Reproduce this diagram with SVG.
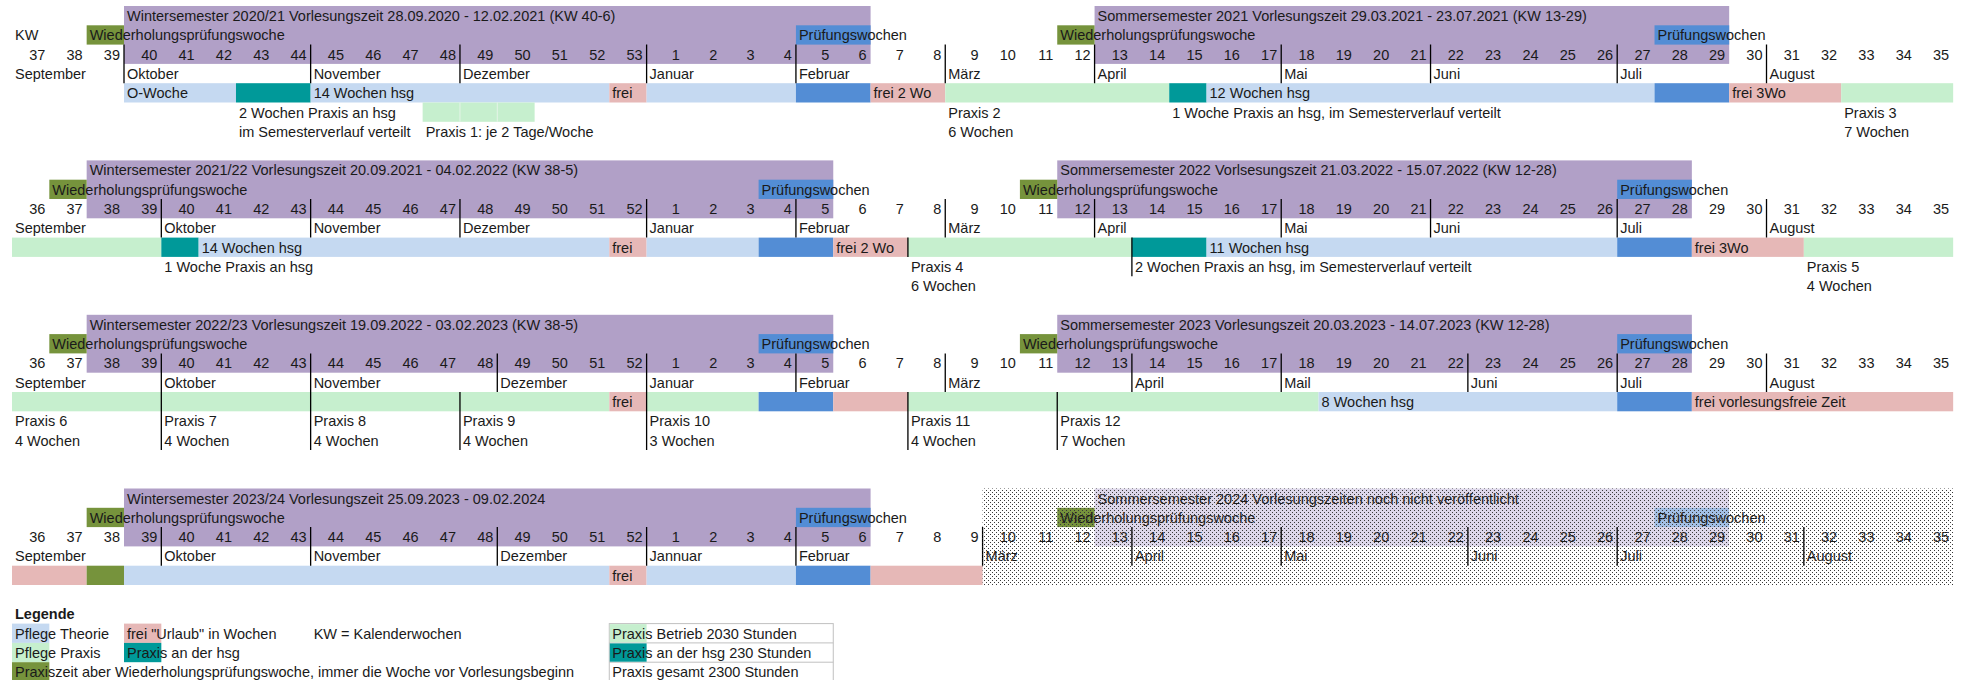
<svg xmlns="http://www.w3.org/2000/svg" width="1966" height="680" viewBox="0 0 1966 680">
<style>
text{font-family:"Liberation Sans",Arial,sans-serif;font-size:14.5px;fill:#1a1a1a}
.wk{text-anchor:end}
.b{font-weight:bold}
.lb{fill:#C5D9F1}.g{fill:#C6EFCE}.t{fill:#009999}.p{fill:#E6B8B7}.bl{fill:#538DD5}.pu{fill:#B1A0C7}.dg{fill:#76933C}
.pul{fill:#DDD7EA}.bll{fill:#A3C0E6}
.ml{stroke:#000;stroke-width:1.3;fill:none}
</style>
<defs>
<pattern id="dots" width="4" height="4" patternUnits="userSpaceOnUse">
<rect x="0" y="0" width="1" height="1" fill="#3a3a3a"/>
<rect x="2" y="2" width="1" height="1" fill="#3a3a3a"/>
</pattern>
</defs>
<rect width="1966" height="680" fill="#fff"/>

<!-- ===== Block 1: 2020/21 ===== -->
<g id="block-2020-21">
<g id="ws2020-band">
<rect class="pu" x="124" y="6" width="746.59" height="57.9"/>
<rect class="dg" x="86.66" y="25.3" width="37.33" height="19.3"/>
<rect class="bl" x="795.93" y="25.3" width="74.66" height="19.3"/>
<text x="127" y="21">Wintersemester 2020/21 Vorlesungszeit 28.09.2020 - 12.02.2021 (KW 40-6)</text>
<text x="89.66" y="40.3">Wiederholungsprüfungswoche</text>
<text x="798.93" y="40.3">Prüfungswochen</text>
</g>
<g id="ss2021-band">
<rect class="pu" x="1094.57" y="6" width="634.61" height="57.9"/>
<rect class="dg" x="1057.24" y="25.3" width="37.33" height="19.3"/>
<rect class="bl" x="1654.52" y="25.3" width="74.66" height="19.3"/>
<text x="1097.57" y="21">Sommersemester 2021 Vorlesungszeit 29.03.2021 - 23.07.2021 (KW 13-29)</text>
<text x="1060.24" y="40.3">Wiederholungsprüfungswoche</text>
<text x="1657.52" y="40.3">Prüfungswochen</text>
</g>
<text x="15" y="40.3">KW</text>
<text class="wk" y="59.6"><tspan x="45.33">37</tspan><tspan x="82.66">38</tspan><tspan x="119.99">39</tspan><tspan x="157.32">40</tspan><tspan x="194.65">41</tspan><tspan x="231.98">42</tspan><tspan x="269.31">43</tspan><tspan x="306.64">44</tspan><tspan x="343.97">45</tspan><tspan x="381.3">46</tspan><tspan x="418.63">47</tspan><tspan x="455.96">48</tspan><tspan x="493.29">49</tspan><tspan x="530.62">50</tspan><tspan x="567.95">51</tspan><tspan x="605.28">52</tspan><tspan x="642.61">53</tspan><tspan x="679.94">1</tspan><tspan x="717.27">2</tspan><tspan x="754.6">3</tspan><tspan x="791.93">4</tspan><tspan x="829.26">5</tspan><tspan x="866.59">6</tspan><tspan x="903.92">7</tspan><tspan x="941.25">8</tspan><tspan x="978.58">9</tspan><tspan x="1015.91">10</tspan><tspan x="1053.24">11</tspan><tspan x="1090.57">12</tspan><tspan x="1127.9">13</tspan><tspan x="1165.23">14</tspan><tspan x="1202.56">15</tspan><tspan x="1239.89">16</tspan><tspan x="1277.22">17</tspan><tspan x="1314.55">18</tspan><tspan x="1351.88">19</tspan><tspan x="1389.21">20</tspan><tspan x="1426.54">21</tspan><tspan x="1463.87">22</tspan><tspan x="1501.2">23</tspan><tspan x="1538.53">24</tspan><tspan x="1575.86">25</tspan><tspan x="1613.19">26</tspan><tspan x="1650.52">27</tspan><tspan x="1687.85">28</tspan><tspan x="1725.18">29</tspan><tspan x="1762.51">30</tspan><tspan x="1799.84">31</tspan><tspan x="1837.17">32</tspan><tspan x="1874.5">33</tspan><tspan x="1911.83">34</tspan><tspan x="1949.16">35</tspan></text>
<text y="78.9"><tspan x="15">September</tspan><tspan x="127">Oktober</tspan><tspan x="313.64">November</tspan><tspan x="462.96">Dezember</tspan><tspan x="649.61">Januar</tspan><tspan x="798.93">Februar</tspan><tspan x="948.25">März</tspan><tspan x="1097.57">April</tspan><tspan x="1284.22">Mai</tspan><tspan x="1433.54">Juni</tspan><tspan x="1620.19">Juli</tspan><tspan x="1769.51">August</tspan></text>
<g id="bar-2020-21">
<rect class="lb" x="124" y="83.2" width="111.99" height="19.3"/>
<rect class="t" x="235.98" y="83.2" width="74.66" height="19.3"/>
<rect class="lb" x="310.64" y="83.2" width="298.64" height="19.3"/>
<rect class="p" x="609.28" y="83.2" width="37.33" height="19.3"/>
<rect class="lb" x="646.61" y="83.2" width="149.32" height="19.3"/>
<rect class="bl" x="795.93" y="83.2" width="74.66" height="19.3"/>
<rect class="p" x="870.59" y="83.2" width="74.66" height="19.3"/>
<rect class="g" x="945.25" y="83.2" width="223.98" height="19.3"/>
<rect class="t" x="1169.23" y="83.2" width="37.33" height="19.3"/>
<rect class="lb" x="1206.56" y="83.2" width="447.96" height="19.3"/>
<rect class="bl" x="1654.52" y="83.2" width="74.66" height="19.3"/>
<rect class="p" x="1729.18" y="83.2" width="111.99" height="19.3"/>
<rect class="g" x="1841.17" y="83.2" width="111.99" height="19.3"/>
<rect class="g" x="422.63" y="102.5" width="111.99" height="19.3"/>
<path d="M459.96 102.5V121.8M497.29 102.5V121.8" stroke="#e4f4e7" stroke-width="1"/>
<text y="98.2"><tspan x="127">O-Woche</tspan><tspan x="313.64">14 Wochen hsg</tspan><tspan x="612.28">frei</tspan><tspan x="873.59">frei 2 Wo</tspan><tspan x="1209.56">12 Wochen hsg</tspan><tspan x="1732.18">frei 3Wo</tspan></text>
</g>
<text y="117.5"><tspan x="238.98">2 Wochen Praxis an hsg</tspan><tspan x="948.25">Praxis 2</tspan><tspan x="1172.23">1 Woche Praxis an hsg, im Semesterverlauf verteilt</tspan><tspan x="1844.17">Praxis 3</tspan></text>
<text y="136.8"><tspan x="238.98">im Semesterverlauf verteilt</tspan><tspan x="425.63">Praxis 1: je 2 Tage/Woche</tspan><tspan x="948.25">6 Wochen</tspan><tspan x="1844.17">7 Wochen</tspan></text>
</g>

<!-- ===== Block 2: 2021/22 ===== -->
<g id="block-2021-22">
<g id="ws2021-band">
<rect class="pu" x="86.66" y="160.4" width="746.6" height="57.9"/>
<rect class="dg" x="49.33" y="179.7" width="37.33" height="19.3"/>
<rect class="bl" x="758.6" y="179.7" width="74.66" height="19.3"/>
<text x="89.66" y="175.4">Wintersemester 2021/22 Vorlesungszeit 20.09.2021 - 04.02.2022 (KW 38-5)</text>
<text x="52.33" y="194.7">Wiederholungsprüfungswoche</text>
<text x="761.6" y="194.7">Prüfungswochen</text>
</g>
<g id="ss2022-band">
<rect class="pu" x="1057.24" y="160.4" width="634.61" height="57.9"/>
<rect class="dg" x="1019.91" y="179.7" width="37.33" height="19.3"/>
<rect class="bl" x="1617.19" y="179.7" width="74.66" height="19.3"/>
<text x="1060.24" y="175.4">Sommersemester 2022 Vorlsesungszeit 21.03.2022 - 15.07.2022 (KW 12-28)</text>
<text x="1022.91" y="194.7">Wiederholungsprüfungswoche</text>
<text x="1620.19" y="194.7">Prüfungswochen</text>
</g>
<text class="wk" y="214"><tspan x="45.33">36</tspan><tspan x="82.66">37</tspan><tspan x="119.99">38</tspan><tspan x="157.32">39</tspan><tspan x="194.65">40</tspan><tspan x="231.98">41</tspan><tspan x="269.31">42</tspan><tspan x="306.64">43</tspan><tspan x="343.97">44</tspan><tspan x="381.3">45</tspan><tspan x="418.63">46</tspan><tspan x="455.96">47</tspan><tspan x="493.29">48</tspan><tspan x="530.62">49</tspan><tspan x="567.95">50</tspan><tspan x="605.28">51</tspan><tspan x="642.61">52</tspan><tspan x="679.94">1</tspan><tspan x="717.27">2</tspan><tspan x="754.6">3</tspan><tspan x="791.93">4</tspan><tspan x="829.26">5</tspan><tspan x="866.59">6</tspan><tspan x="903.92">7</tspan><tspan x="941.25">8</tspan><tspan x="978.58">9</tspan><tspan x="1015.91">10</tspan><tspan x="1053.24">11</tspan><tspan x="1090.57">12</tspan><tspan x="1127.9">13</tspan><tspan x="1165.23">14</tspan><tspan x="1202.56">15</tspan><tspan x="1239.89">16</tspan><tspan x="1277.22">17</tspan><tspan x="1314.55">18</tspan><tspan x="1351.88">19</tspan><tspan x="1389.21">20</tspan><tspan x="1426.54">21</tspan><tspan x="1463.87">22</tspan><tspan x="1501.2">23</tspan><tspan x="1538.53">24</tspan><tspan x="1575.86">25</tspan><tspan x="1613.19">26</tspan><tspan x="1650.52">27</tspan><tspan x="1687.85">28</tspan><tspan x="1725.18">29</tspan><tspan x="1762.51">30</tspan><tspan x="1799.84">31</tspan><tspan x="1837.17">32</tspan><tspan x="1874.5">33</tspan><tspan x="1911.83">34</tspan><tspan x="1949.16">35</tspan></text>
<text y="233.3"><tspan x="15">September</tspan><tspan x="164.32">Oktober</tspan><tspan x="313.64">November</tspan><tspan x="462.96">Dezember</tspan><tspan x="649.61">Januar</tspan><tspan x="798.93">Februar</tspan><tspan x="948.25">März</tspan><tspan x="1097.57">April</tspan><tspan x="1284.22">Mai</tspan><tspan x="1433.54">Juni</tspan><tspan x="1620.19">Juli</tspan><tspan x="1769.51">August</tspan></text>
<g id="bar-2021-22">
<rect class="g" x="12" y="237.6" width="149.32" height="19.3"/>
<rect class="t" x="161.32" y="237.6" width="37.33" height="19.3"/>
<rect class="lb" x="198.65" y="237.6" width="410.63" height="19.3"/>
<rect class="p" x="609.28" y="237.6" width="37.33" height="19.3"/>
<rect class="lb" x="646.61" y="237.6" width="111.99" height="19.3"/>
<rect class="bl" x="758.6" y="237.6" width="74.66" height="19.3"/>
<rect class="p" x="833.26" y="237.6" width="74.66" height="19.3"/>
<rect class="g" x="907.92" y="237.6" width="223.98" height="19.3"/>
<rect class="t" x="1131.9" y="237.6" width="74.66" height="19.3"/>
<rect class="lb" x="1206.56" y="237.6" width="410.63" height="19.3"/>
<rect class="bl" x="1617.19" y="237.6" width="74.66" height="19.3"/>
<rect class="p" x="1691.85" y="237.6" width="111.99" height="19.3"/>
<rect class="g" x="1803.84" y="237.6" width="149.32" height="19.3"/>
<text y="252.6"><tspan x="201.65">14 Wochen hsg</tspan><tspan x="612.28">frei</tspan><tspan x="836.26">frei 2 Wo</tspan><tspan x="1209.56">11 Wochen hsg</tspan><tspan x="1694.85">frei 3Wo</tspan></text>
</g>
<text y="271.9"><tspan x="164.32">1 Woche Praxis an hsg</tspan><tspan x="910.92">Praxis 4</tspan><tspan x="1134.9">2 Wochen Praxis an hsg, im Semesterverlauf verteilt</tspan><tspan x="1806.84">Praxis 5</tspan></text>
<text y="291.2"><tspan x="910.92">6 Wochen</tspan><tspan x="1806.84">4 Wochen</tspan></text>
</g>

<!-- ===== Block 3: 2022/23 ===== -->
<g id="block-2022-23">
<g id="ws2022-band">
<rect class="pu" x="86.66" y="314.8" width="746.6" height="57.9"/>
<rect class="dg" x="49.33" y="334.1" width="37.33" height="19.3"/>
<rect class="bl" x="758.6" y="334.1" width="74.66" height="19.3"/>
<text x="89.66" y="329.8">Wintersemester 2022/23 Vorlesungszeit 19.09.2022 - 03.02.2023 (KW 38-5)</text>
<text x="52.33" y="349.1">Wiederholungsprüfungswoche</text>
<text x="761.6" y="349.1">Prüfungswochen</text>
</g>
<g id="ss2023-band">
<rect class="pu" x="1057.24" y="314.8" width="634.61" height="57.9"/>
<rect class="dg" x="1019.91" y="334.1" width="37.33" height="19.3"/>
<rect class="bl" x="1617.19" y="334.1" width="74.66" height="19.3"/>
<text x="1060.24" y="329.8">Sommersemester 2023 Vorlesungszeit 20.03.2023 - 14.07.2023 (KW 12-28)</text>
<text x="1022.91" y="349.1">Wiederholungsprüfungswoche</text>
<text x="1620.19" y="349.1">Prüfungswochen</text>
</g>
<text class="wk" y="368.4"><tspan x="45.33">36</tspan><tspan x="82.66">37</tspan><tspan x="119.99">38</tspan><tspan x="157.32">39</tspan><tspan x="194.65">40</tspan><tspan x="231.98">41</tspan><tspan x="269.31">42</tspan><tspan x="306.64">43</tspan><tspan x="343.97">44</tspan><tspan x="381.3">45</tspan><tspan x="418.63">46</tspan><tspan x="455.96">47</tspan><tspan x="493.29">48</tspan><tspan x="530.62">49</tspan><tspan x="567.95">50</tspan><tspan x="605.28">51</tspan><tspan x="642.61">52</tspan><tspan x="679.94">1</tspan><tspan x="717.27">2</tspan><tspan x="754.6">3</tspan><tspan x="791.93">4</tspan><tspan x="829.26">5</tspan><tspan x="866.59">6</tspan><tspan x="903.92">7</tspan><tspan x="941.25">8</tspan><tspan x="978.58">9</tspan><tspan x="1015.91">10</tspan><tspan x="1053.24">11</tspan><tspan x="1090.57">12</tspan><tspan x="1127.9">13</tspan><tspan x="1165.23">14</tspan><tspan x="1202.56">15</tspan><tspan x="1239.89">16</tspan><tspan x="1277.22">17</tspan><tspan x="1314.55">18</tspan><tspan x="1351.88">19</tspan><tspan x="1389.21">20</tspan><tspan x="1426.54">21</tspan><tspan x="1463.87">22</tspan><tspan x="1501.2">23</tspan><tspan x="1538.53">24</tspan><tspan x="1575.86">25</tspan><tspan x="1613.19">26</tspan><tspan x="1650.52">27</tspan><tspan x="1687.85">28</tspan><tspan x="1725.18">29</tspan><tspan x="1762.51">30</tspan><tspan x="1799.84">31</tspan><tspan x="1837.17">32</tspan><tspan x="1874.5">33</tspan><tspan x="1911.83">34</tspan><tspan x="1949.16">35</tspan></text>
<text y="387.7"><tspan x="15">September</tspan><tspan x="164.32">Oktober</tspan><tspan x="313.64">November</tspan><tspan x="500.29">Dezember</tspan><tspan x="649.61">Januar</tspan><tspan x="798.93">Februar</tspan><tspan x="948.25">März</tspan><tspan x="1134.9">April</tspan><tspan x="1284.22">Mail</tspan><tspan x="1470.87">Juni</tspan><tspan x="1620.19">Juli</tspan><tspan x="1769.51">August</tspan></text>
<g id="bar-2022-23">
<rect class="g" x="12" y="392" width="597.28" height="19.3"/>
<rect class="p" x="609.28" y="392" width="37.33" height="19.3"/>
<rect class="g" x="646.61" y="392" width="111.99" height="19.3"/>
<rect class="bl" x="758.6" y="392" width="74.66" height="19.3"/>
<rect class="p" x="833.26" y="392" width="74.66" height="19.3"/>
<rect class="g" x="907.92" y="392" width="410.63" height="19.3"/>
<rect class="lb" x="1318.55" y="392" width="298.64" height="19.3"/>
<rect class="bl" x="1617.19" y="392" width="74.66" height="19.3"/>
<rect class="p" x="1691.85" y="392" width="261.31" height="19.3"/>
<text y="407"><tspan x="612.28">frei</tspan><tspan x="1321.55">8 Wochen hsg</tspan><tspan x="1694.85">frei vorlesungsfreie Zeit</tspan></text>
</g>
<text y="426.3"><tspan x="15">Praxis 6</tspan><tspan x="164.32">Praxis 7</tspan><tspan x="313.64">Praxis 8</tspan><tspan x="462.96">Praxis 9</tspan><tspan x="649.61">Praxis 10</tspan><tspan x="910.92">Praxis 11</tspan><tspan x="1060.24">Praxis 12</tspan></text>
<text y="445.6"><tspan x="15">4 Wochen</tspan><tspan x="164.32">4 Wochen</tspan><tspan x="313.64">4 Wochen</tspan><tspan x="462.96">4 Wochen</tspan><tspan x="649.61">3 Wochen</tspan><tspan x="910.92">4 Wochen</tspan><tspan x="1060.24">7 Wochen</tspan></text>
</g>

<!-- ===== Block 4: 2023/24 ===== -->
<g id="block-2023-24">
<g id="ws2023-band">
<rect class="pu" x="124" y="488.5" width="746.59" height="57.9"/>
<rect class="dg" x="86.66" y="507.8" width="37.33" height="19.3"/>
<rect class="bl" x="795.93" y="507.8" width="74.66" height="19.3"/>
<text x="127" y="503.5">Wintersemester 2023/24 Vorlesungszeit 25.09.2023 - 09.02.2024</text>
<text x="89.66" y="522.8">Wiederholungsprüfungswoche</text>
<text x="798.93" y="522.8">Prüfungswochen</text>
</g>
<g id="ss2024-band">
<rect class="pul" x="1094.57" y="488.5" width="634.61" height="57.9"/>
<rect class="dg" x="1057.24" y="507.8" width="37.33" height="19.3"/>
<rect class="bll" x="1654.52" y="507.8" width="74.66" height="19.3"/>
<text x="1097.57" y="503.5">Sommersemester 2024 Vorlesungszeiten noch nicht veröffentlicht</text>
<text x="1060.24" y="522.8">Wiederholungsprüfungswoche</text>
<text x="1657.52" y="522.8">Prüfungswochen</text>
</g>
<text class="wk" y="542.1"><tspan x="45.33">36</tspan><tspan x="82.66">37</tspan><tspan x="119.99">38</tspan><tspan x="157.32">39</tspan><tspan x="194.65">40</tspan><tspan x="231.98">41</tspan><tspan x="269.31">42</tspan><tspan x="306.64">43</tspan><tspan x="343.97">44</tspan><tspan x="381.3">45</tspan><tspan x="418.63">46</tspan><tspan x="455.96">47</tspan><tspan x="493.29">48</tspan><tspan x="530.62">49</tspan><tspan x="567.95">50</tspan><tspan x="605.28">51</tspan><tspan x="642.61">52</tspan><tspan x="679.94">1</tspan><tspan x="717.27">2</tspan><tspan x="754.6">3</tspan><tspan x="791.93">4</tspan><tspan x="829.26">5</tspan><tspan x="866.59">6</tspan><tspan x="903.92">7</tspan><tspan x="941.25">8</tspan><tspan x="978.58">9</tspan><tspan x="1015.91">10</tspan><tspan x="1053.24">11</tspan><tspan x="1090.57">12</tspan><tspan x="1127.9">13</tspan><tspan x="1165.23">14</tspan><tspan x="1202.56">15</tspan><tspan x="1239.89">16</tspan><tspan x="1277.22">17</tspan><tspan x="1314.55">18</tspan><tspan x="1351.88">19</tspan><tspan x="1389.21">20</tspan><tspan x="1426.54">21</tspan><tspan x="1463.87">22</tspan><tspan x="1501.2">23</tspan><tspan x="1538.53">24</tspan><tspan x="1575.86">25</tspan><tspan x="1613.19">26</tspan><tspan x="1650.52">27</tspan><tspan x="1687.85">28</tspan><tspan x="1725.18">29</tspan><tspan x="1762.51">30</tspan><tspan x="1799.84">31</tspan><tspan x="1837.17">32</tspan><tspan x="1874.5">33</tspan><tspan x="1911.83">34</tspan><tspan x="1949.16">35</tspan></text>
<text y="561.4"><tspan x="15">September</tspan><tspan x="164.32">Oktober</tspan><tspan x="313.64">November</tspan><tspan x="500.29">Dezember</tspan><tspan x="649.61">Jannuar</tspan><tspan x="798.93">Februar</tspan><tspan x="985.58">März</tspan><tspan x="1134.9">April</tspan><tspan x="1284.22">Mai</tspan><tspan x="1470.87">Juni</tspan><tspan x="1620.19">Juli</tspan><tspan x="1806.84">August</tspan></text>
<g id="bar-2023-24">
<rect class="p" x="12" y="565.7" width="74.66" height="19.3"/>
<rect class="dg" x="86.66" y="565.7" width="37.33" height="19.3"/>
<rect class="lb" x="124" y="565.7" width="485.28" height="19.3"/>
<rect class="p" x="609.28" y="565.7" width="37.33" height="19.3"/>
<rect class="lb" x="646.61" y="565.7" width="149.32" height="19.3"/>
<rect class="bl" x="795.93" y="565.7" width="74.66" height="19.3"/>
<rect class="p" x="870.59" y="565.7" width="111.99" height="19.3"/>
<text x="612.28" y="580.7">frei</text>
</g>
</g>

<!-- ===== grid lines (month and placement separators) ===== -->
<g id="connectors">
<path class="ml" d="M124 44.6V83.2M310.64 44.6V83.2M459.96 44.6V83.2M646.61 44.6V83.2M795.93 44.6V83.2M945.25 44.6V83.2M1094.57 44.6V83.2M1281.22 44.6V83.2M1430.54 44.6V83.2M1617.19 44.6V83.2M1766.51 44.6V83.2"/>
<path class="ml" d="M161.32 199V237.6M310.64 199V237.6M459.96 199V237.6M646.61 199V237.6M795.93 199V237.6M945.25 199V237.6M1094.57 199V237.6M1281.22 199V237.6M1430.54 199V237.6M1617.19 199V237.6M1766.51 199V237.6M1131.9 237.6V276.2M907.92 237.6V256.9"/>
<path class="ml" d="M161.32 353.4V392M310.64 353.4V392M497.29 353.4V392M646.61 353.4V392M795.93 353.4V392M945.25 353.4V392M1131.9 353.4V392M1281.22 353.4V392M1467.87 353.4V392M1617.19 353.4V392M1766.51 353.4V392M161.32 392V449.9M310.64 392V449.9M459.96 392V449.9M646.61 392V449.9M907.92 392V449.9M1057.24 392V449.9"/>
<path class="ml" d="M161.32 527.1V565.7M310.64 527.1V565.7M497.29 527.1V565.7M646.61 527.1V565.7M795.93 527.1V565.7M982.58 527.1V565.7M1131.9 527.1V565.7M1281.22 527.1V565.7M1467.87 527.1V565.7M1617.19 527.1V565.7M1803.84 527.1V565.7"/>
</g>

<!-- stippled area: not yet published -->
<rect id="unpublished" x="982.58" y="488.5" width="970.58" height="96.5" fill="url(#dots)"/>

<!-- ===== Legend ===== -->
<g id="legend">
<text class="b" x="15" y="619.3">Legende</text>
<rect class="lb" x="12" y="623.6" width="37.33" height="19.3"/>
<rect class="p" x="124" y="623.6" width="37.33" height="19.3"/>
<rect class="g" x="12" y="642.9" width="37.33" height="19.3"/>
<rect class="t" x="124" y="642.9" width="37.33" height="19.3"/>
<rect class="dg" x="12" y="662.2" width="37.33" height="19.3"/>
<text y="638.6"><tspan x="15">Pflege Theorie</tspan><tspan x="127">frei "Urlaub" in Wochen</tspan><tspan x="313.64">KW = Kalenderwochen</tspan></text>
<text y="657.9"><tspan x="15">Pflege Praxis</tspan><tspan x="127">Praxis an der hsg</tspan></text>
<text x="15" y="677.2">Praxiszeit aber Wiederholungsprüfungswoche, immer die Woche vor Vorlesungsbeginn</text>
</g>
<g id="legend-hours">
<rect x="609.28" y="623.6" width="223.98" height="57.9" fill="#fff" stroke="#c0c0c0" stroke-width="1"/>
<path d="M609.28 642.9H833.26M609.28 662.2H833.26" stroke="#c0c0c0" stroke-width="1"/>
<rect class="g" x="609.78" y="624.1" width="36.83" height="18.3"/>
<rect class="t" x="609.78" y="643.4" width="36.83" height="18.3"/>
<text x="612.28" y="638.6">Praxis Betrieb 2030 Stunden</text>
<text x="612.28" y="657.9">Praxis an der hsg 230 Stunden</text>
<text x="612.28" y="677.2">Praxis gesamt 2300 Stunden</text>
</g>
</svg>
